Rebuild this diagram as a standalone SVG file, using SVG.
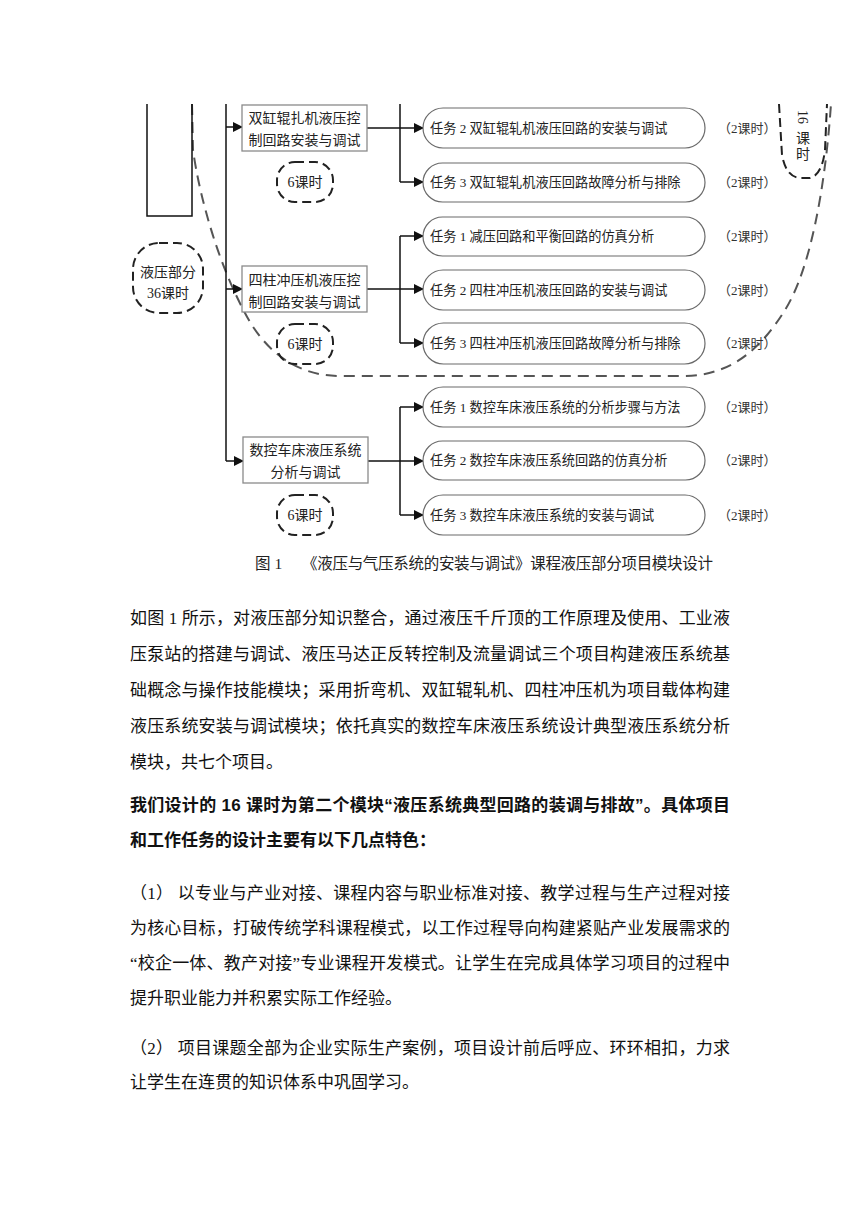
<svg xmlns="http://www.w3.org/2000/svg" width="860" height="1216" viewBox="0 0 860 1216">
<defs>
<marker id="ah" markerWidth="10" markerHeight="10" refX="9" refY="5" orient="auto" markerUnits="userSpaceOnUse">
<path d="M0,0 L10,5 L0,10 Z" fill="#111"/>
</marker>
<style>
.ln{stroke:#111;stroke-width:1.5;fill:none}
.arr{stroke:#111;stroke-width:1.5;fill:none;marker-end:url(#ah)}
.box{fill:#fff;stroke:#8a8a8a;stroke-width:1.3}
.pill{fill:#fff;stroke:#6a6a6a;stroke-width:1.2}
.dsh{fill:none;stroke:#222;stroke-width:2;stroke-dasharray:9 5}
.big{fill:none;stroke:#555;stroke-width:2;stroke-dasharray:11 7}
.t{font-family:"Liberation Serif","Noto Sans CJK SC",serif;fill:#222;font-size:13.2px}
.bt{font-family:"Liberation Serif","Noto Sans CJK SC",serif;fill:#222;font-size:14px;text-anchor:middle}
.h{font-family:"Liberation Serif","Noto Sans CJK SC",serif;fill:#333;font-size:13px}
.cap{font-family:"Liberation Serif","Noto Sans CJK SC",serif;fill:#222;font-size:15.5px}
.p{font-family:"Liberation Serif","Noto Sans CJK SC",serif;fill:#111;font-size:17px}
.pb{font-family:"Liberation Sans","Noto Sans CJK SC",sans-serif;fill:#111;font-size:17px;font-weight:bold}
</style>
</defs>
<rect width="860" height="1216" fill="#fff"/>

<g id="bigcurve">
<path class="big" d="M192,104 L193,150 C200,200 220,270 250,322 C270,355 300,376 340,376 L683,376 C730,376 760,350 785,310 S825,190 831,104"/>
</g>

<g id="connectors">
<path class="ln" d="M147,104 L147,216 L192,216 L192,104"/>
<line class="ln" x1="226" y1="104" x2="226" y2="461"/>
<line class="arr" x1="226" y1="127" x2="242" y2="127"/>
<line class="arr" x1="226" y1="289" x2="242" y2="289"/>
<line class="arr" x1="226" y1="461" x2="243" y2="461"/>
<line class="ln" x1="400" y1="104" x2="400" y2="182"/>
<line class="arr" x1="367" y1="128" x2="423" y2="128"/>
<line class="arr" x1="400" y1="182" x2="423" y2="182"/>
<line class="ln" x1="400" y1="236" x2="400" y2="343"/>
<line class="arr" x1="400" y1="236" x2="423" y2="236"/>
<line class="arr" x1="367" y1="289" x2="423" y2="289"/>
<line class="arr" x1="400" y1="343" x2="423" y2="343"/>
<line class="ln" x1="400" y1="407" x2="400" y2="515"/>
<line class="arr" x1="400" y1="407" x2="423" y2="407"/>
<line class="arr" x1="368" y1="461" x2="423" y2="461"/>
<line class="arr" x1="400" y1="515" x2="423" y2="515"/>
</g>

<g id="hydraulic">
<rect class="dsh" x="133" y="243" width="70" height="70" rx="26"/>
<text class="bt" x="168" y="277">液压部分</text>
<text class="bt" x="168" y="298">36课时</text>
</g>

<g id="hours16">
<path class="dsh" d="M779,104 L782,155 Q786,177 800,178 L810,178 Q822,175 825,150 L827,104"/>
<text class="bt" transform="translate(803,117) rotate(90)" y="5">16</text>
<text class="bt" x="803" y="143">课</text>
<text class="bt" x="803" y="159">时</text>
</g>

<g id="project1">
<rect class="box" x="242" y="105" width="125" height="46"/>
<text class="bt" x="304.5" y="123">双缸辊扎机液压控</text>
<text class="bt" x="304.5" y="145">制回路安装与调试</text>
<rect class="dsh" x="277" y="162" width="56" height="40" rx="18"/>
<text class="bt" x="305" y="187">6课时</text>
</g>

<g id="project2">
<rect class="box" x="242" y="266" width="125" height="46"/>
<text class="bt" x="304.5" y="285">四柱冲压机液压控</text>
<text class="bt" x="304.5" y="307">制回路安装与调试</text>
<rect class="dsh" x="277" y="324" width="56" height="40" rx="18"/>
<text class="bt" x="305" y="349">6课时</text>
</g>

<g id="project3">
<rect class="box" x="243" y="437" width="125" height="46"/>
<text class="bt" x="305.5" y="455">数控车床液压系统</text>
<text class="bt" x="305.5" y="477">分析与调试</text>
<rect class="dsh" x="277" y="495" width="56" height="40" rx="18"/>
<text class="bt" x="305" y="520">6课时</text>
</g>

<g id="task1-2">
<rect class="pill" x="423" y="108" width="282" height="40" rx="20"/>
<text class="t" x="430" y="133">任务 2 双缸辊轧机液压回路的安装与调试</text>
<text class="h" x="718" y="133">（2课时）</text>
</g>
<g id="task1-3">
<rect class="pill" x="423" y="163" width="282" height="39" rx="19.5"/>
<text class="t" x="430" y="187">任务 3 双缸辊轧机液压回路故障分析与排除</text>
<text class="h" x="718" y="187">（2课时）</text>
</g>
<g id="task2-1">
<rect class="pill" x="423" y="217" width="282" height="39" rx="19.5"/>
<text class="t" x="430" y="241">任务 1 减压回路和平衡回路的仿真分析</text>
<text class="h" x="718" y="241">（2课时）</text>
</g>
<g id="task2-2">
<rect class="pill" x="423" y="270" width="282" height="40" rx="20"/>
<text class="t" x="430" y="295">任务 2 四柱冲压机液压回路的安装与调试</text>
<text class="h" x="718" y="295">（2课时）</text>
</g>
<g id="task2-3">
<rect class="pill" x="423" y="323" width="282" height="41" rx="20.5"/>
<text class="t" x="430" y="348">任务 3 四柱冲压机液压回路故障分析与排除</text>
<text class="h" x="718" y="348">（2课时）</text>
</g>
<g id="task3-1">
<rect class="pill" x="423" y="387" width="282" height="40" rx="20"/>
<text class="t" x="430" y="412">任务 1 数控车床液压系统的分析步骤与方法</text>
<text class="h" x="718" y="412">（2课时）</text>
</g>
<g id="task3-2">
<rect class="pill" x="423" y="441" width="282" height="39" rx="19.5"/>
<text class="t" x="430" y="465">任务 2 数控车床液压系统回路的仿真分析</text>
<text class="h" x="718" y="465">（2课时）</text>
</g>
<g id="task3-3">
<rect class="pill" x="423" y="495" width="282" height="40" rx="20"/>
<text class="t" x="430" y="520">任务 3 数控车床液压系统的安装与调试</text>
<text class="h" x="718" y="520">（2课时）</text>
</g>

<g id="caption">
<text class="cap" x="255" y="569">图 1</text>
<text class="cap" x="302" y="569" textLength="411" lengthAdjust="spacing">《液压与气压系统的安装与调试》课程液压部分项目模块设计</text>
</g>

<g id="body">
<text class="p" x="130" y="624" textLength="600" lengthAdjust="spacing">如图 1 所示，对液压部分知识整合，通过液压千斤顶的工作原理及使用、工业液</text>
<text class="p" x="130" y="660" textLength="600" lengthAdjust="spacing">压泵站的搭建与调试、液压马达正反转控制及流量调试三个项目构建液压系统基</text>
<text class="p" x="130" y="696" textLength="600" lengthAdjust="spacing">础概念与操作技能模块；采用折弯机、双缸辊轧机、四柱冲压机为项目载体构建</text>
<text class="p" x="130" y="732" textLength="600" lengthAdjust="spacing">液压系统安装与调试模块；依托真实的数控车床液压系统设计典型液压系统分析</text>
<text class="p" x="130" y="768">模块，共七个项目。</text>
<text class="pb" x="130" y="811" textLength="600" lengthAdjust="spacing">我们设计的 16 课时为第二个模块“液压系统典型回路的装调与排故”。具体项目</text>
<text class="pb" x="130" y="846">和工作任务的设计主要有以下几点特色：</text>
<text class="p" x="130" y="899" textLength="600" lengthAdjust="spacing">（1） 以专业与产业对接、课程内容与职业标准对接、教学过程与生产过程对接</text>
<text class="p" x="130" y="934" textLength="600" lengthAdjust="spacing">为核心目标，打破传统学科课程模式，以工作过程导向构建紧贴产业发展需求的</text>
<text class="p" x="130" y="969" textLength="600" lengthAdjust="spacing">“校企一体、教产对接”专业课程开发模式。让学生在完成具体学习项目的过程中</text>
<text class="p" x="130" y="1004">提升职业能力并积累实际工作经验。</text>
<text class="p" x="130" y="1054" textLength="600" lengthAdjust="spacing">（2） 项目课题全部为企业实际生产案例，项目设计前后呼应、环环相扣，力求</text>
<text class="p" x="130" y="1088">让学生在连贯的知识体系中巩固学习。</text>
</g>
</svg>
